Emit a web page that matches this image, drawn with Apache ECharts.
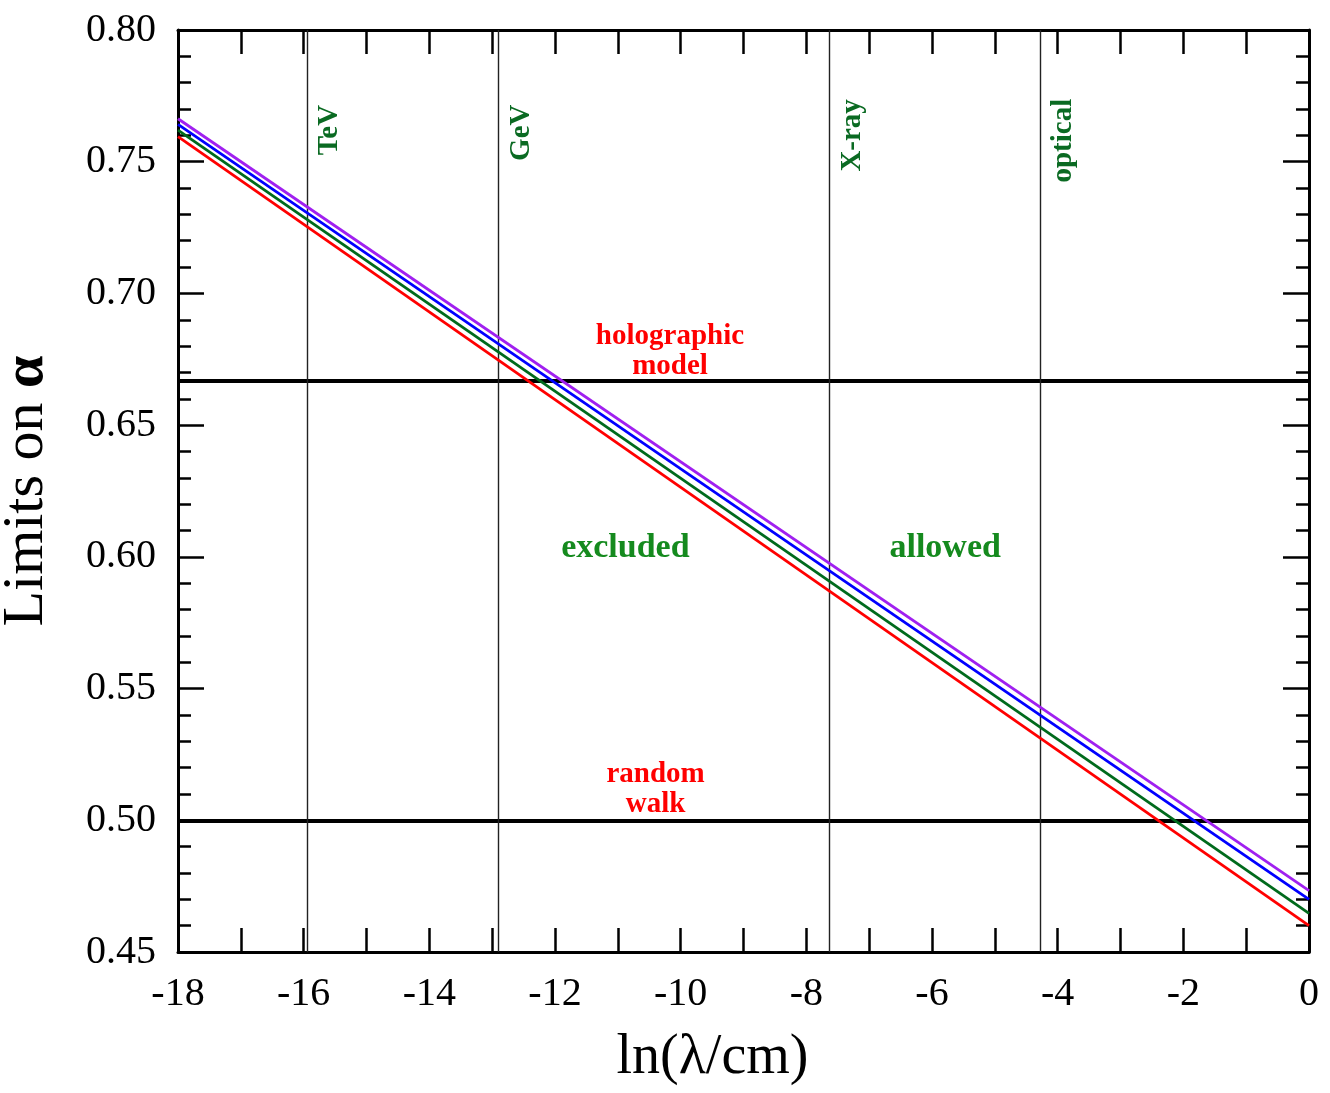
<!DOCTYPE html>
<html>
<head>
<meta charset="utf-8">
<title>Limits on alpha</title>
<script src="https://cdn.jsdelivr.net/npm/echarts@6/dist/echarts.min.js"></script>
<style>
  html, body { margin: 0; padding: 0; background: #fff; }
  #chart { width: 1330px; height: 1093px; }
</style>
</head>
<body>
<div id="chart"></div>
<script>
// x range of the limit curves (ln(lambda/cm)) and the curve values at both ends
var xEnds = [-18, 0];
var redLine = [0.7595, 0.4600];
var greenLine = [0.7620, 0.4647];
var blueLine = [0.7642, 0.4700];
var purpleLine = [0.7663, 0.4733];

// reference models (horizontal lines)
var modelNames = ['holographic\nmodel', 'random\nwalk'];
var modelValues = [2 / 3, 0.5];

// energy bands (vertical lines)
var bandNames = ['TeV', 'GeV', 'X-ray', 'optical'];
var bandValues = [-15.95, -12.9, -7.63, -4.27];

var serif = "'Liberation Serif', 'Times New Roman', serif";

function pairs(vals) {
    var out = [];
    for (var i = 0; i < xEnds.length; i++) {
        out.push([xEnds[i], vals[i]]);
    }
    return out;
}

function curve(name, vals, color) {
    return {
        name: name,
        type: 'line',
        data: pairs(vals),
        symbol: 'none',
        lineStyle: { color: color, width: 2.8 },
        z: 5
    };
}

// text notes placed in data coordinates
var bandLabelY = [0.762, 0.761, 0.760, 0.758];
var bandNotes = [];
for (var i = 0; i < bandNames.length; i++) {
    bandNotes.push({ name: bandNames[i], value: [bandValues[i] + 0.36, bandLabelY[i]] });
}

var modelNotes = [
    { name: modelNames[0], value: [-10.17, 0.678] },
    { name: modelNames[1], value: [-10.40, 0.5118] }
];

var regionNotes = [
    { name: 'excluded', value: [-10.88, 0.6033] },
    { name: 'allowed', value: [-5.79, 0.6033] }
];

function noteSeries(data, color, size, rotate, lh) {
    return {
        type: 'scatter',
        data: data,
        symbolSize: 0,
        silent: true,
        itemStyle: { opacity: 1 },
        z: 6,
        label: {
            show: true,
            position: 'inside',
            formatter: function (p) { return p.name; },
            color: color,
            fontFamily: serif,
            fontWeight: 'bold',
            fontSize: size,
            lineHeight: lh,
            rotate: rotate,
            align: 'center',
            verticalAlign: 'middle'
        }
    };
}

var hLines = [];
for (var i = 0; i < modelValues.length; i++) {
    hLines.push({ yAxis: modelValues[i], lineStyle: { color: '#000', width: 4, type: 'solid' } });
}
var vLines = [];
for (var i = 0; i < bandValues.length; i++) {
    vLines.push({ xAxis: bandValues[i], lineStyle: { color: '#222', width: 1.4, type: 'solid' } });
}

var tickStyle = { color: '#000', width: 2.5 };

option = {
    animation: false,
    grid: { left: 178, right: 21, top: 30, bottom: 141, containLabel: false, outerBoundsMode: 'none' },
    xAxis: [
        {
            type: 'value',
            min: -18,
            max: 0,
            interval: 2,
            name: 'ln(\u03bb/cm)',
            nameLocation: 'middle',
            nameGap: 78,
            nameTextStyle: { fontFamily: serif, fontSize: 56, color: '#000', padding: [0, 62, 0, 0] },
            axisLine: { show: true, onZero: false, lineStyle: { color: '#000', width: 3 } },
            axisTick: { show: true, inside: true, length: 24, lineStyle: tickStyle },
            minorTick: { show: true, splitNumber: 2, length: 24, lineStyle: tickStyle },
            axisLabel: { fontFamily: serif, fontSize: 40, color: '#000', margin: 22 },
            splitLine: { show: false }
        },
        {
            type: 'value',
            position: 'top',
            min: -18,
            max: 0,
            interval: 2,
            axisLine: { show: true, onZero: false, lineStyle: { color: '#000', width: 3 } },
            axisTick: { show: true, inside: true, length: 24, lineStyle: tickStyle },
            minorTick: { show: true, splitNumber: 2, length: 24, lineStyle: tickStyle },
            axisLabel: { show: false },
            splitLine: { show: false }
        }
    ],
    yAxis: [
        {
            type: 'value',
            min: 0.45,
            max: 0.80,
            interval: 0.05,
            name: 'Limits on {a|\u03b1}',
            nameLocation: 'middle',
            nameGap: 122,
            nameTextStyle: {
                fontFamily: serif, fontSize: 58, color: '#000',
                rich: { a: { fontFamily: serif, fontSize: 58, fontWeight: 'bold', color: '#000' } }
            },
            axisLine: { show: true, onZero: false, lineStyle: { color: '#000', width: 3 } },
            axisTick: { show: true, inside: true, length: 26, lineStyle: tickStyle },
            minorTick: { show: true, splitNumber: 5, length: 13, lineStyle: tickStyle },
            axisLabel: {
                fontFamily: serif, fontSize: 40, color: '#000', margin: 22,
                formatter: function (v) { return v.toFixed(2); }
            },
            splitLine: { show: false }
        },
        {
            type: 'value',
            position: 'right',
            min: 0.45,
            max: 0.80,
            interval: 0.05,
            axisLine: { show: true, onZero: false, lineStyle: { color: '#000', width: 3 } },
            axisTick: { show: true, inside: true, length: 26, lineStyle: tickStyle },
            minorTick: { show: true, splitNumber: 5, length: 13, lineStyle: tickStyle },
            axisLabel: { show: false },
            splitLine: { show: false }
        }
    ],
    series: [
        {
            type: 'line',
            data: [],
            markLine: {
                silent: true,
                symbol: 'none',
                precision: 6,
                label: { show: false },
                data: hLines.concat(vLines)
            },
            z: 4
        },
        curve('red', redLine, '#ff0000'),
        curve('green', greenLine, '#006a1c'),
        curve('blue', blueLine, '#0000ff'),
        curve('purple', purpleLine, '#a020f0'),
        noteSeries(bandNotes, '#0a6a22', 29, 90, 30),
        noteSeries(modelNotes, '#ff0000', 29, 0, 30),
        noteSeries(regionNotes, '#158a1e', 34, 0, 36)
    ]
};

var myChart = echarts.init(document.getElementById('chart'));
myChart.setOption(option);
window.onresize = myChart.resize;
</script>
</body>
</html>
